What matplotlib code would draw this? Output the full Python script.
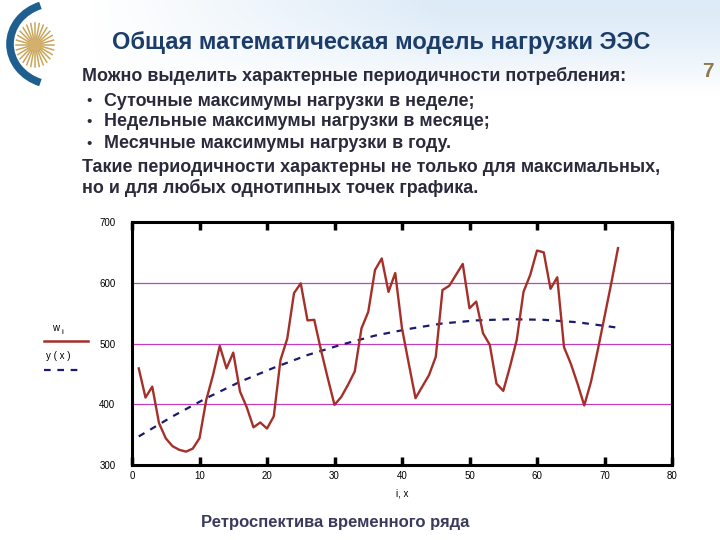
"""
Общая математическая модель нагрузки ЭЭС — ретроспектива временного ряда
"""

import matplotlib
matplotlib.use("Agg")
import matplotlib.pyplot as plt
import numpy as np
from matplotlib.lines import Line2D
from matplotlib.patches import Arc, Circle

# ── Data ─────────────────────────────────────────────────────────────────────
load_i = list(range(1, 73))
load_w = [
    459, 411, 429, 369, 344, 331, 325, 322, 327, 344,
    407, 448, 496, 459, 485, 421, 395, 362, 370, 360,
    380, 473, 508, 583, 599, 538, 539, 489, 443, 399,
    412, 432, 454, 525, 552, 621, 640, 585, 616, 525,
    467, 410, 429, 448, 478, 588, 595, 613, 631, 558,
    569, 517, 498, 434, 422, 462, 506, 585, 613, 653,
    650, 590, 609, 494, 467, 434, 398, 437, 489, 544,
    599, 657,
]
trend_x = [1, 6, 11, 16, 21, 26, 31, 36, 41, 46, 51, 56, 61, 66, 72]
trend_y = [347, 380, 410, 437, 460, 481, 498, 513, 524, 533, 538, 540, 539, 535, 526]

x_ticks = [0, 10, 20, 30, 40, 50, 60, 70, 80]
y_ticks = [300, 400, 500, 600, 700]
grid_levels = [400, 500, 600]

TITLE = "Общая математическая модель нагрузки ЭЭС"
BODY = [
    ("Можно выделить характерные периодичности потребления:", False),
    ("Суточные максимумы нагрузки в неделе;", True),
    ("Недельные максимумы нагрузки в месяце;", True),
    ("Месячные максимумы нагрузки в году.", True),
    ("Такие периодичности характерны не только для максимальных,", False),
    ("но и для любых однотипных точек графика.", False),
]
CAPTION = "Ретроспектива временного ряда"

RED = "#a5302a"
NAVY = "#1a1a70"
GRID = "#c040c0"
TXT = "#2a2a3c"

plt.rcParams["font.family"] = ["Liberation Sans", "DejaVu Sans"]

fig = plt.figure(figsize=(7.2, 5.4), dpi=100)
fig.patch.set_facecolor("white")

# ── Header decoration (light blue swoosh + logo) ─────────────────────────────
bg = fig.add_axes([0, 0, 1, 1], zorder=-5)
bg.set_xlim(0, 720)
bg.set_ylim(540, 0)
bg.axis("off")
hx = np.linspace(0, 1, 300)[None, :]
hy = np.linspace(0, 1, 100)[:, None]
alpha = np.clip(hx * 1.8, 0, 1) * np.clip(1 - hy ** 1.5, 0, 1) * 0.6
rgba = np.zeros((100, 300, 4))
rgba[..., 0] = 0.78
rgba[..., 1] = 0.87
rgba[..., 2] = 0.95
rgba[..., 3] = alpha
bg.imshow(rgba, extent=[90, 720, 95, 0], aspect="auto", zorder=-5)
bg.add_patch(Arc((56, 44), 92, 82, theta1=112, theta2=248,
                 color="#1f5f8f", lw=5.5))
for ang in np.linspace(0, 2 * np.pi, 28, endpoint=False):
    bg.plot([35 + 7 * np.cos(ang), 35 + 19 * np.cos(ang)],
            [45 + 7 * np.sin(ang), 45 + 22 * np.sin(ang)],
            color="#c9a55a", lw=1.1)
bg.add_patch(Circle((35, 45), 6, color="#d4b06a"))

fig.text(0.53, 0.922, TITLE, ha="center", va="center", fontsize=17,
         fontweight="bold", color="#1c3d6a")
fig.text(0.983, 0.868, "7", ha="center", va="center", fontsize=15,
         fontweight="bold", color="#8c7a52")

body_y = [76, 101, 122, 144, 167, 188]
for (line, bullet), yy in zip(BODY, body_y):
    if bullet:
        fig.text(86 / 720, 1 - yy / 540, "•", ha="left", va="center",
                 fontsize=11, color=TXT)
        fig.text(104 / 720, 1 - yy / 540, line, ha="left", va="center",
                 fontsize=12.9, fontweight="bold", color=TXT)
    else:
        fig.text(82 / 720, 1 - yy / 540, line, ha="left", va="center",
                 fontsize=12.9, fontweight="bold", color=TXT)

# ── Chart ────────────────────────────────────────────────────────────────────
ax = fig.add_axes([132 / 720, 75 / 540, 540 / 720, 243 / 540])
for lvl in grid_levels:
    ax.axhline(lvl, color=GRID, lw=0.9, zorder=1)
ax.plot(load_i, load_w, color=RED, lw=1.7, zorder=3)
ax.plot(trend_x, trend_y, color=NAVY, lw=1.6, ls=(0, (3, 3)), zorder=2)

ax.set_xlim(0, 80)
ax.set_ylim(300, 700)
ax.set_xticks(x_ticks)
ax.set_yticks(y_ticks)
ax.tick_params(axis="x", direction="in", length=6, width=2.5, top=True,
               labelsize=7, pad=4, colors="black")
ax.tick_params(axis="y", length=0, labelsize=7, pad=12)
for sp in ax.spines.values():
    sp.set_linewidth(2.2)
ax.set_xlabel("i, x", fontsize=7, labelpad=6)

# legend outside the axes
fig.text(52 / 720, 1 - 328 / 540, "w", fontsize=7, ha="left", va="center")
fig.text(62 / 720, 1 - 332 / 540, "i", fontsize=6, ha="left", va="center")
fig.add_artist(Line2D([44 / 720, 88 / 720], [1 - 341 / 540] * 2,
                      color=RED, lw=1.8))
fig.text(46 / 720, 1 - 356 / 540, "y ( x )", fontsize=7, ha="left", va="center")
fig.add_artist(Line2D([44 / 720, 84 / 720], [1 - 370 / 540] * 2,
                      color=NAVY, lw=1.6, ls=(0, (3, 3))))

fig.text(335 / 720, 1 - 523 / 540, CAPTION, ha="center", va="center",
         fontsize=12, fontweight="bold", color="#3a3a5c")

fig.savefig("out.png", dpi=100)
